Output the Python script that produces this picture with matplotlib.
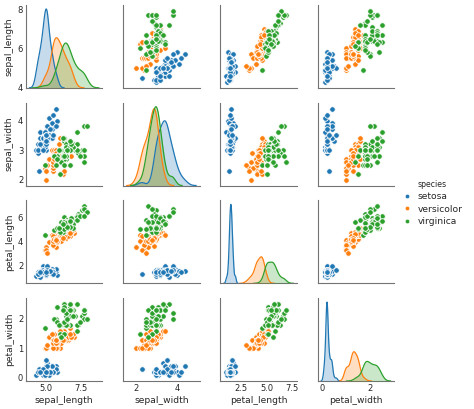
import numpy as np
import matplotlib
matplotlib.use("Agg")
import matplotlib.pyplot as plt
from matplotlib.lines import Line2D

# iris data, one list per column and species
VARS = ["sepal_length", "sepal_width", "petal_length", "petal_width"]
SPECIES = ["setosa", "versicolor", "virginica"]
COLORS = ["#1f77b4", "#ff7f0e", "#2ca02c"]

setosa_sl = [5.1, 4.9, 4.7, 4.6, 5.0, 5.4, 4.6, 5.0, 4.4, 4.9, 5.4, 4.8, 4.8, 4.3, 5.8, 5.7, 5.4,
             5.1, 5.7, 5.1, 5.4, 5.1, 4.6, 5.1, 4.8, 5.0, 5.0, 5.2, 5.2, 4.7, 4.8, 5.4, 5.2, 5.5,
             4.9, 5.0, 5.5, 4.9, 4.4, 5.1, 5.0, 4.5, 4.4, 5.0, 5.1, 4.8, 5.1, 4.6, 5.3, 5.0]
setosa_sw = [3.5, 3.0, 3.2, 3.1, 3.6, 3.9, 3.4, 3.4, 2.9, 3.1, 3.7, 3.4, 3.0, 3.0, 4.0, 4.4, 3.9,
             3.5, 3.8, 3.8, 3.4, 3.7, 3.6, 3.3, 3.4, 3.0, 3.4, 3.5, 3.4, 3.2, 3.1, 3.4, 4.1, 4.2,
             3.1, 3.2, 3.5, 3.6, 3.0, 3.4, 3.5, 2.3, 3.2, 3.5, 3.8, 3.0, 3.8, 3.2, 3.7, 3.3]
setosa_pl = [1.4, 1.4, 1.3, 1.5, 1.4, 1.7, 1.4, 1.5, 1.4, 1.5, 1.5, 1.6, 1.4, 1.1, 1.2, 1.5, 1.3,
             1.4, 1.7, 1.5, 1.7, 1.5, 1.0, 1.7, 1.9, 1.6, 1.6, 1.5, 1.4, 1.6, 1.6, 1.5, 1.5, 1.4,
             1.5, 1.2, 1.3, 1.4, 1.3, 1.5, 1.3, 1.3, 1.3, 1.6, 1.9, 1.4, 1.6, 1.4, 1.5, 1.4]
setosa_pw = [0.2, 0.2, 0.2, 0.2, 0.2, 0.4, 0.3, 0.2, 0.2, 0.1, 0.2, 0.2, 0.1, 0.1, 0.2, 0.4, 0.4,
             0.3, 0.3, 0.3, 0.2, 0.4, 0.2, 0.5, 0.2, 0.2, 0.4, 0.2, 0.2, 0.2, 0.2, 0.4, 0.1, 0.2,
             0.2, 0.2, 0.2, 0.1, 0.2, 0.2, 0.3, 0.3, 0.2, 0.6, 0.4, 0.3, 0.2, 0.2, 0.2, 0.2]

versicolor_sl = [7.0, 6.4, 6.9, 5.5, 6.5, 5.7, 6.3, 4.9, 6.6, 5.2, 5.0, 5.9, 6.0, 6.1, 5.6, 6.7, 5.6,
                 5.8, 6.2, 5.6, 5.9, 6.1, 6.3, 6.1, 6.4, 6.6, 6.8, 6.7, 6.0, 5.7, 5.5, 5.5, 5.8, 6.0,
                 5.4, 6.0, 6.7, 6.3, 5.6, 5.5, 5.5, 6.1, 5.8, 5.0, 5.6, 5.7, 5.7, 6.2, 5.1, 5.7]
versicolor_sw = [3.2, 3.2, 3.1, 2.3, 2.8, 2.8, 3.3, 2.4, 2.9, 2.7, 2.0, 3.0, 2.2, 2.9, 2.9, 3.1, 3.0,
                 2.7, 2.2, 2.5, 3.2, 2.8, 2.5, 2.8, 2.9, 3.0, 2.8, 3.0, 2.9, 2.6, 2.4, 2.4, 2.7, 2.7,
                 3.0, 3.4, 3.1, 2.3, 3.0, 2.5, 2.6, 3.0, 2.6, 2.3, 2.7, 3.0, 2.9, 2.9, 2.5, 2.8]
versicolor_pl = [4.7, 4.5, 4.9, 4.0, 4.6, 4.5, 4.7, 3.3, 4.6, 3.9, 3.5, 4.2, 4.0, 4.7, 3.6, 4.4, 4.5,
                 4.1, 4.5, 3.9, 4.8, 4.0, 4.9, 4.7, 4.3, 4.4, 4.8, 5.0, 4.5, 3.5, 3.8, 3.7, 3.9, 5.1,
                 4.5, 4.5, 4.7, 4.4, 4.1, 4.0, 4.4, 4.6, 4.0, 3.3, 4.2, 4.2, 4.2, 4.3, 3.0, 4.1]
versicolor_pw = [1.4, 1.5, 1.5, 1.3, 1.5, 1.3, 1.6, 1.0, 1.3, 1.4, 1.0, 1.5, 1.0, 1.4, 1.3, 1.4, 1.5,
                 1.0, 1.5, 1.1, 1.8, 1.3, 1.5, 1.2, 1.3, 1.4, 1.4, 1.7, 1.5, 1.0, 1.1, 1.0, 1.2, 1.6,
                 1.5, 1.6, 1.5, 1.3, 1.3, 1.3, 1.2, 1.4, 1.2, 1.0, 1.3, 1.2, 1.3, 1.3, 1.1, 1.3]

virginica_sl = [6.3, 5.8, 7.1, 6.3, 6.5, 7.6, 4.9, 7.3, 6.7, 7.2, 6.5, 6.4, 6.8, 5.7, 5.8, 6.4, 6.5,
                7.7, 7.7, 6.0, 6.9, 5.6, 7.7, 6.3, 6.7, 7.2, 6.2, 6.1, 6.4, 7.2, 7.4, 7.9, 6.4, 6.3,
                6.1, 7.7, 6.3, 6.4, 6.0, 6.9, 6.7, 6.9, 5.8, 6.8, 6.7, 6.7, 6.3, 6.5, 6.2, 5.9]
virginica_sw = [3.3, 2.7, 3.0, 2.9, 3.0, 3.0, 2.5, 2.9, 2.5, 3.6, 3.2, 2.7, 3.0, 2.5, 2.8, 3.2, 3.0,
                3.8, 2.6, 2.2, 3.2, 2.8, 2.8, 2.7, 3.3, 3.2, 2.8, 3.0, 2.8, 3.0, 2.8, 3.8, 2.8, 2.8,
                2.6, 3.0, 3.4, 3.1, 3.0, 3.1, 3.1, 3.1, 2.7, 3.2, 3.3, 3.0, 2.5, 3.0, 3.4, 3.0]
virginica_pl = [6.0, 5.1, 5.9, 5.6, 5.8, 6.6, 4.5, 6.3, 5.8, 6.1, 5.1, 5.3, 5.5, 5.0, 5.1, 5.3, 5.5,
                6.7, 6.9, 5.0, 5.7, 4.9, 6.7, 4.9, 5.7, 6.0, 4.8, 4.9, 5.6, 5.8, 6.1, 6.4, 5.6, 5.1,
                5.6, 6.1, 5.6, 5.5, 4.8, 5.4, 5.6, 5.1, 5.1, 5.9, 5.7, 5.2, 5.0, 5.2, 5.4, 5.1]
virginica_pw = [2.5, 1.9, 2.1, 1.8, 2.2, 2.1, 1.7, 1.8, 1.8, 2.5, 2.0, 1.9, 2.1, 2.0, 2.4, 2.3, 1.8,
                2.2, 2.3, 1.5, 2.3, 2.0, 2.0, 1.8, 2.1, 1.8, 1.8, 1.8, 2.1, 1.6, 1.9, 2.0, 2.2, 1.5,
                1.4, 2.3, 2.4, 1.8, 1.8, 2.1, 2.4, 2.3, 1.9, 2.3, 2.5, 2.3, 1.9, 2.0, 2.3, 1.8]

data = {
    "setosa": [setosa_sl, setosa_sw, setosa_pl, setosa_pw],
    "versicolor": [versicolor_sl, versicolor_sw, versicolor_pl, versicolor_pw],
    "virginica": [virginica_sl, virginica_sw, virginica_pl, virginica_pw],
}

X_TICKS = [[5.0, 7.5], [2, 4], [2.5, 5.0, 7.5], [0, 2]]
X_TICKLABELS = [["5.0", "7.5"], ["2", "4"], ["2.5", "5.0", "7.5"], ["0", "2"]]
Y_TICKS = [[4, 6, 8], [2, 3, 4], [2, 4, 6], [0, 1, 2]]

TXT = "0.15"
SPINE = "0.45"


def kde(vals, gridsize=100, cut=3):
    v = np.asarray(vals, dtype=float)
    bw = v.std(ddof=1) * len(v) ** (-1 / 5)
    grid = np.linspace(v.min() - cut * bw, v.max() + cut * bw, gridsize)
    dens = np.exp(-0.5 * ((grid[:, None] - v[None, :]) / bw) ** 2).sum(1)
    dens /= len(v) * bw * np.sqrt(2 * np.pi)
    return grid, dens


fig, axes = plt.subplots(4, 4, figsize=(4.74, 4.09), dpi=100, sharex="col", sharey="row")
fig.subplots_adjust(left=26 / 474, right=394 / 474, top=1 - 5 / 409, bottom=1 - 381 / 409,
                    wspace=0.275, hspace=0.18)

for i in range(4):
    for j in range(4):
        ax = axes[i, j]
        # old seaborn/mpl padded scatter limits by the marker size
        ax.set_ymargin(0.085)
        if i == j:
            dax = ax.twinx()
            dax.set_axis_off()
            for sp, c in zip(SPECIES, COLORS):
                g, d = kde(data[sp][i])
                dax.fill_between(g, d, color=c, alpha=0.25, lw=0)
                dax.plot(g, d, color=c, lw=0.9)
            dax.set_ylim(bottom=0)
        else:
            for sp, c in zip(SPECIES, COLORS):
                ax.scatter(data[sp][j], data[sp][i], s=16, color=c,
                           edgecolor="white", linewidths=0.6, zorder=2)

        for side in ["top", "right"]:
            ax.spines[side].set_visible(False)
        for side in ["left", "bottom"]:
            ax.spines[side].set_color(SPINE)
            ax.spines[side].set_linewidth(0.8)
        ax.tick_params(length=0, pad=2, labelsize=6, labelcolor=TXT)

for j in range(4):
    axes[3, j].set_xticks(X_TICKS[j])
    axes[3, j].set_xticklabels(X_TICKLABELS[j])
    axes[3, j].set_xlabel(VARS[j], fontsize=6.6, color=TXT, labelpad=2)
for i in range(4):
    axes[i, 0].set_yticks(Y_TICKS[i])
    axes[i, 0].set_ylabel(VARS[i], fontsize=6.6, color=TXT, labelpad=3)

handles = [Line2D([], [], marker="o", ls="", color=c, markersize=3,
                  markeredgecolor="white", markeredgewidth=0.3) for c in COLORS]
leg = fig.legend(handles, SPECIES, title="species", loc="center left",
                 bbox_to_anchor=(393 / 474, 1 - 203 / 409), frameon=False,
                 fontsize=6.6, title_fontsize=5.6, handlelength=1.2,
                 handletextpad=0.6, labelspacing=0.35)
for t in leg.get_texts():
    t.set_color(TXT)
leg.get_title().set_color(TXT)

fig.savefig("out.png", dpi=100)
